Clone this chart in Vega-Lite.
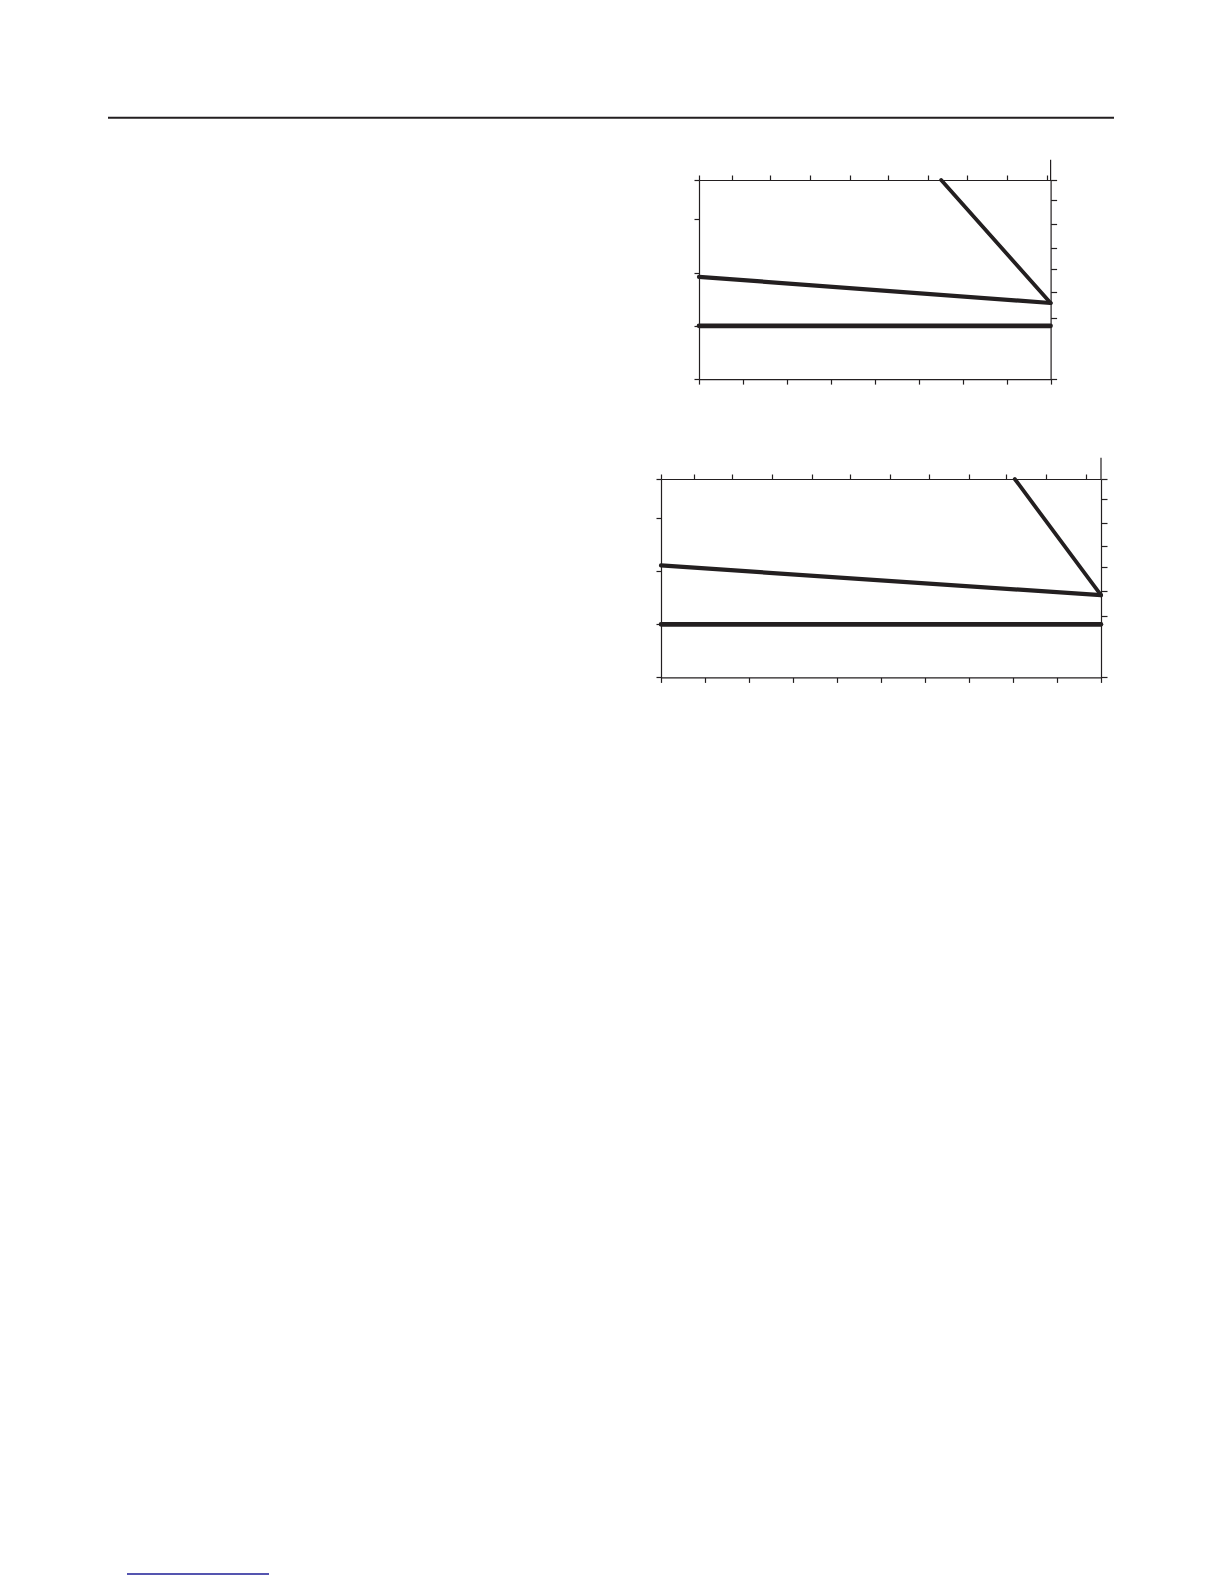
{
  "$schema": "https://vega.github.io/schema/vega-lite/v6.json",
  "padding": 0,
  "background": "white",
  "datasets": {
    "lines1": [
      {"series": "base", "x": 0, "y": 0},
      {"series": "base", "x": 8, "y": 0},
      {"series": "slope", "x": 0, "y": 0.92},
      {"series": "slope", "x": 8, "y": 0.43},
      {"series": "steep", "x": 5.51, "y": 2.74},
      {"series": "steep", "x": 8, "y": 0.43}
    ],
    "lines2": [
      {"series": "base", "x": 0, "y": 0},
      {"series": "base", "x": 10, "y": 0},
      {"series": "slope", "x": 0, "y": 1.11},
      {"series": "slope", "x": 10, "y": 0.55},
      {"series": "steep", "x": 8.04, "y": 2.74},
      {"series": "steep", "x": 10, "y": 0.55}
    ],
    "edge1": [{"x": 8, "y": 2.74, "y2": 3.12}],
    "edge2": [{"x": 10, "y": 2.74, "y2": 3.14}],
    "header": [{"x": 0, "x2": 1, "y": 0}],
    "footer": [{"x": 0, "x2": 1, "y": 0}],
    "empty": []
  },
  "bounds": "full",
  "spacing": 0,
  "vconcat": [
    {
      "bounds": "flush",
      "spacing": 0,
      "hconcat": [
        {"width": 108, "height": 117.7, "data": {"name": "empty"}, "mark": "rule", "encoding": {}},
        {
          "width": 1006,
          "height": 117.7,
          "data": {"name": "header"},
          "mark": {"type": "rule", "color": "#231f20", "strokeWidth": 2},
          "encoding": {
            "x": {"field": "x", "type": "quantitative", "scale": {"domain": [0, 1], "nice": false}, "axis": null},
            "x2": {"field": "x2"},
            "y": {"field": "y", "type": "quantitative", "scale": {"domain": [0, 1], "nice": false}, "axis": null}
          }
        }
      ]
    },
    {"width": 1, "height": 39.1, "data": {"name": "empty"}, "mark": "rule", "encoding": {}},
    {
      "bounds": "flush",
      "spacing": 0,
      "hconcat": [
        {"width": 698.5, "height": 199.1, "data": {"name": "empty"}, "mark": "rule", "encoding": {}},
        {
          "width": 351.6,
          "height": 199.1,
          "layer": [
            {
              "data": {"name": "lines1"},
              "mark": {"type": "line", "color": "#231f20", "strokeCap": "round", "strokeJoin": "round"},
              "encoding": {
                "x": {"field": "x", "type": "quantitative", "scale": {"domain": [0, 8], "nice": false},
                      "axis": {"orient": "bottom", "values": [0, 1, 2, 3, 4, 5, 6, 7, 8]}},
                "y": {"field": "y", "type": "quantitative", "scale": {"domain": [-1, 2.74], "nice": false},
                      "axis": {"orient": "left", "values": [-1, 0, 1, 2, 2.74]}},
                "detail": {"field": "series"},
                "strokeWidth": {"field": "series", "type": "nominal",
                                "scale": {"domain": ["base", "slope", "steep"], "range": [4.6, 3.8, 3.8]}, "legend": null}
              }
            },
            {
              "data": {"name": "edge1"},
              "mark": {"type": "rule", "color": "#231f20", "strokeWidth": 1.2},
              "encoding": {
                "x": {"field": "x", "type": "quantitative", "scale": {"domain": [0, 8], "nice": false},
                      "axis": {"orient": "top", "values": [0, 0.75, 1.62, 2.53, 3.43, 4.29, 5.2, 6.09, 7.01, 7.91]}},
                "y": {"field": "y", "type": "quantitative", "scale": {"domain": [-1, 2.74], "nice": false},
                      "axis": {"orient": "right", "tickSize": 6, "values": [-1, 0.14, 0.63, 1.06, 1.46, 1.91, 2.36, 2.74]}},
                "y2": {"field": "y2"}
              }
            }
          ],
          "resolve": {"axis": {"x": "independent", "y": "independent"}}
        }
      ]
    },
    {"width": 1, "height": 71.4, "data": {"name": "empty"}, "mark": "rule", "encoding": {}},
    {
      "bounds": "flush",
      "spacing": 0,
      "hconcat": [
        {"width": 660.3, "height": 198.4, "data": {"name": "empty"}, "mark": "rule", "encoding": {}},
        {
          "width": 440,
          "height": 198.4,
          "layer": [
            {
              "data": {"name": "lines2"},
              "mark": {"type": "line", "color": "#231f20", "strokeCap": "round", "strokeJoin": "round"},
              "encoding": {
                "x": {"field": "x", "type": "quantitative", "scale": {"domain": [0, 10], "nice": false},
                      "axis": {"orient": "bottom", "values": [0, 1, 2, 3, 4, 5, 6, 7, 8, 9, 10]}},
                "y": {"field": "y", "type": "quantitative", "scale": {"domain": [-1, 2.74], "nice": false},
                      "axis": {"orient": "left", "values": [-1, 0, 1, 2, 2.74]}},
                "detail": {"field": "series"},
                "strokeWidth": {"field": "series", "type": "nominal",
                                "scale": {"domain": ["base", "slope", "steep"], "range": [4, 3.8, 3.8]}, "legend": null}
              }
            },
            {
              "data": {"name": "edge2"},
              "mark": {"type": "rule", "color": "#231f20", "strokeWidth": 1.2},
              "encoding": {
                "x": {"field": "x", "type": "quantitative", "scale": {"domain": [0, 10], "nice": false},
                      "axis": {"orient": "top", "values": [0, 0.75, 1.62, 2.53, 3.43, 4.3, 5.2, 6.09, 7.0, 7.84, 8.75, 9.65]}},
                "y": {"field": "y", "type": "quantitative", "scale": {"domain": [-1, 2.74], "nice": false},
                      "axis": {"orient": "right", "tickSize": 6, "values": [-1, 0.16, 0.63, 1.08, 1.47, 1.91, 2.37, 2.74]}},
                "y2": {"field": "y2"}
              }
            }
          ],
          "resolve": {"axis": {"x": "independent", "y": "independent"}}
        }
      ]
    },
    {"width": 1, "height": 889.9, "data": {"name": "empty"}, "mark": "rule", "encoding": {}},
    {
      "bounds": "flush",
      "spacing": 0,
      "hconcat": [
        {"width": 127, "height": 1, "data": {"name": "empty"}, "mark": "rule", "encoding": {}},
        {
          "width": 142,
          "height": 1,
          "data": {"name": "footer"},
          "mark": {"type": "rule", "color": "#1c1c96", "strokeWidth": 1.5},
          "encoding": {
            "x": {"field": "x", "type": "quantitative", "scale": {"domain": [0, 1], "nice": false}, "axis": null},
            "x2": {"field": "x2"},
            "y": {"field": "y", "type": "quantitative", "scale": {"domain": [0, 1], "nice": false}, "axis": null}
          }
        }
      ]
    }
  ],
  "config": {
    "view": {"stroke": null},
    "axis": {
      "labels": false,
      "title": null,
      "grid": false,
      "domainColor": "#231f20",
      "domainWidth": 1.2,
      "tickColor": "#231f20",
      "tickWidth": 1.2,
      "tickSize": 5
    }
  }
}
